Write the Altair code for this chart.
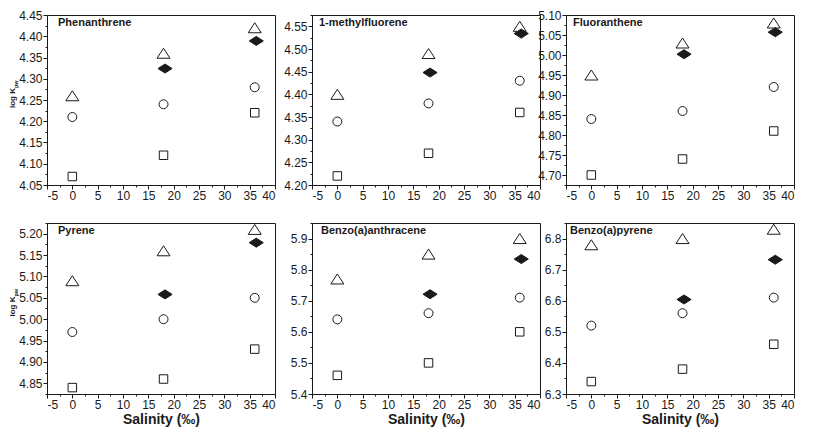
import altair as alt
import pandas as pd
import numpy as np

# ---------------- data ----------------
compounds = ["Phenanthrene", "1-methylfluorene", "Fluoranthene",
             "Pyrene", "Benzo(a)anthracene", "Benzo(a)pyrene"]
salinity = [0, 18, 36]
salinity_filled = [18.3, 36.3]

triangle_vals = [[4.26, 4.36, 4.42], [4.40, 4.49, 4.55], [4.95, 5.03, 5.08],
                 [5.09, 5.16, 5.21], [5.77, 5.85, 5.90], [6.78, 6.80, 6.83]]
circle_vals = [[4.21, 4.24, 4.28], [4.34, 4.38, 4.43], [4.84, 4.86, 4.92],
               [4.97, 5.00, 5.05], [5.64, 5.66, 5.71], [6.52, 6.56, 6.61]]
square_vals = [[4.07, 4.12, 4.22], [4.22, 4.27, 4.36], [4.70, 4.74, 4.81],
               [4.84, 4.86, 4.93], [5.46, 5.50, 5.60], [6.34, 6.38, 6.46]]
diamond_vals = [[4.324, 4.389], [4.448, 4.534], [5.002, 5.057],
                [5.058, 5.179], [5.721, 5.834], [6.604, 6.732]]

y_domains = [[4.05, 4.45], [4.20, 4.575], [4.675, 5.10],
             [4.825, 5.225], [5.4, 5.95], [6.3, 6.85]]
y_steps = [0.05, 0.05, 0.05, 0.05, 0.1, 0.1]
y_formats = [".2f", ".2f", ".2f", ".2f", ".1f", ".1f"]
x_domain = [-5, 40]

# ---------------- styles ----------------
FONT = "Liberation Sans"
INK = "#1a1a1a"
label_dx = [11, 7, 7, 11, 9, 4]
left_anchor = [None, 41.3, 30.3, None, 41.3, 30.3]
TRI = "M0,-0.77L1,0.77L-1,0.77Z"
DIA = "M-1,0L0,-0.64L1,0L0,0.64Z"
marker_styles = [
    # (shape, size, fill)
    (TRI, 169, "white"),
    ("circle", 80, "white"),
    ("square", 72, "white"),
    (DIA, 200, INK),
]

W = 228
H_TOP = 170
H_BOT = 171


def minor_values(lo, hi, step):
    half = step / 2
    start = np.ceil(lo / half - 1e-9) * half
    vals = np.arange(start, hi + 1e-9, half)
    return [round(float(v), 4) for v in vals]


def panel(i, width, height, y_title, x_title):
    lo, hi = y_domains[i]
    step = y_steps[i]
    m = int(round(step * 1000))
    ytest = f"round(datum.value*1000) % {m} == 0"
    y_axis = alt.Axis(
        values=minor_values(lo, hi, step),
        labelExpr=f"{ytest} ? format(datum.value, '{y_formats[i]}') : ''",
        tickSize={"condition": {"test": ytest, "value": 4}, "value": 2},
        labelOverlap=False, labelPadding=1, title=None, grid=False,
    )
    xtest = "datum.value % 5 == 0"
    x_axis = alt.Axis(
        values=minor_values(x_domain[0], x_domain[1], 5),
        labelExpr=f"{xtest} ? toString(datum.value) : ''",
        tickSize={"condition": {"test": xtest, "value": 4}, "value": 2},
        labelOverlap=False, labelPadding=1, grid=False,
        title="Salinity (‰)" if x_title else None,
        titleFontSize=14, titleFontWeight="bold", titleFont=FONT,
        titleColor=INK, titlePadding=2,
    )
    xs = alt.X("x:Q", scale=alt.Scale(domain=x_domain, nice=False, zero=False), axis=x_axis)
    ys = alt.Y("y:Q", scale=alt.Scale(domain=[lo, hi], nice=False, zero=False), axis=y_axis)

    series_data = [
        (salinity, triangle_vals[i]),
        (salinity, circle_vals[i]),
        (salinity, square_vals[i]),
        (salinity_filled, diamond_vals[i]),
    ]
    layers = []
    for (sx, sy), (shape, size, fill) in zip(series_data, marker_styles):
        df = pd.DataFrame({"x": sx, "y": sy})
        layers.append(
            alt.Chart(df).mark_point(
                shape=shape, size=size, filled=True, fill=fill,
                stroke=INK, strokeWidth=1, opacity=1
            ).encode(x=xs, y=ys)
        )

    one = pd.DataFrame({"a": [0]})
    name = alt.Chart(one).mark_text(
        text=compounds[i], align="left", baseline="alphabetic",
        fontSize=11, fontWeight="bold", font=FONT, color=INK
    ).encode(x=alt.value(label_dx[i]), y=alt.value(11))
    layers.append(name)

    if y_title:
        yc = height / 2 - 12
        t1 = alt.Chart(one).mark_text(
            text="log K", angle=270, align="right", baseline="middle",
            fontSize=8, fontWeight="bold", font=FONT, color=INK
        ).encode(x=alt.value(-34), y=alt.value(yc))
        t2 = alt.Chart(one).mark_text(
            text="pw", angle=270, align="left", baseline="middle",
            fontSize=5.5, fontWeight="bold", font=FONT, color=INK
        ).encode(x=alt.value(-31.5), y=alt.value(yc))
        layers += [t1, t2]
    if left_anchor[i] is not None:
        a = left_anchor[i]
        anchor = alt.Chart(one).mark_rule(opacity=0, strokeWidth=0.01).encode(
            x=alt.value(-a), x2=alt.value(-a),
            y=alt.value(height / 2), y2=alt.value(height / 2 + 1)
        )
        layers.append(anchor)

    return alt.layer(*layers).properties(width=width, height=height)


row1 = alt.hconcat(
    panel(0, W, H_TOP, True, False),
    panel(1, W, H_TOP, False, False),
    panel(2, W, H_TOP, False, False),
    spacing=-6,
)
row2 = alt.hconcat(
    panel(3, W, H_BOT, True, True),
    panel(4, W, H_BOT, False, True),
    panel(5, W, H_BOT, False, True),
    spacing=-6,
)

chart = alt.vconcat(row1, row2, spacing=14).properties(
    padding=0
).configure_view(
    stroke=INK, strokeWidth=1
).configure_axis(
    domainColor=INK, tickColor=INK, labelColor=INK,
    labelFont=FONT, labelFontSize=12, domainWidth=1, tickWidth=1,
)

chart.save("out.html", embed_options={"renderer": "svg", "actions": False})
